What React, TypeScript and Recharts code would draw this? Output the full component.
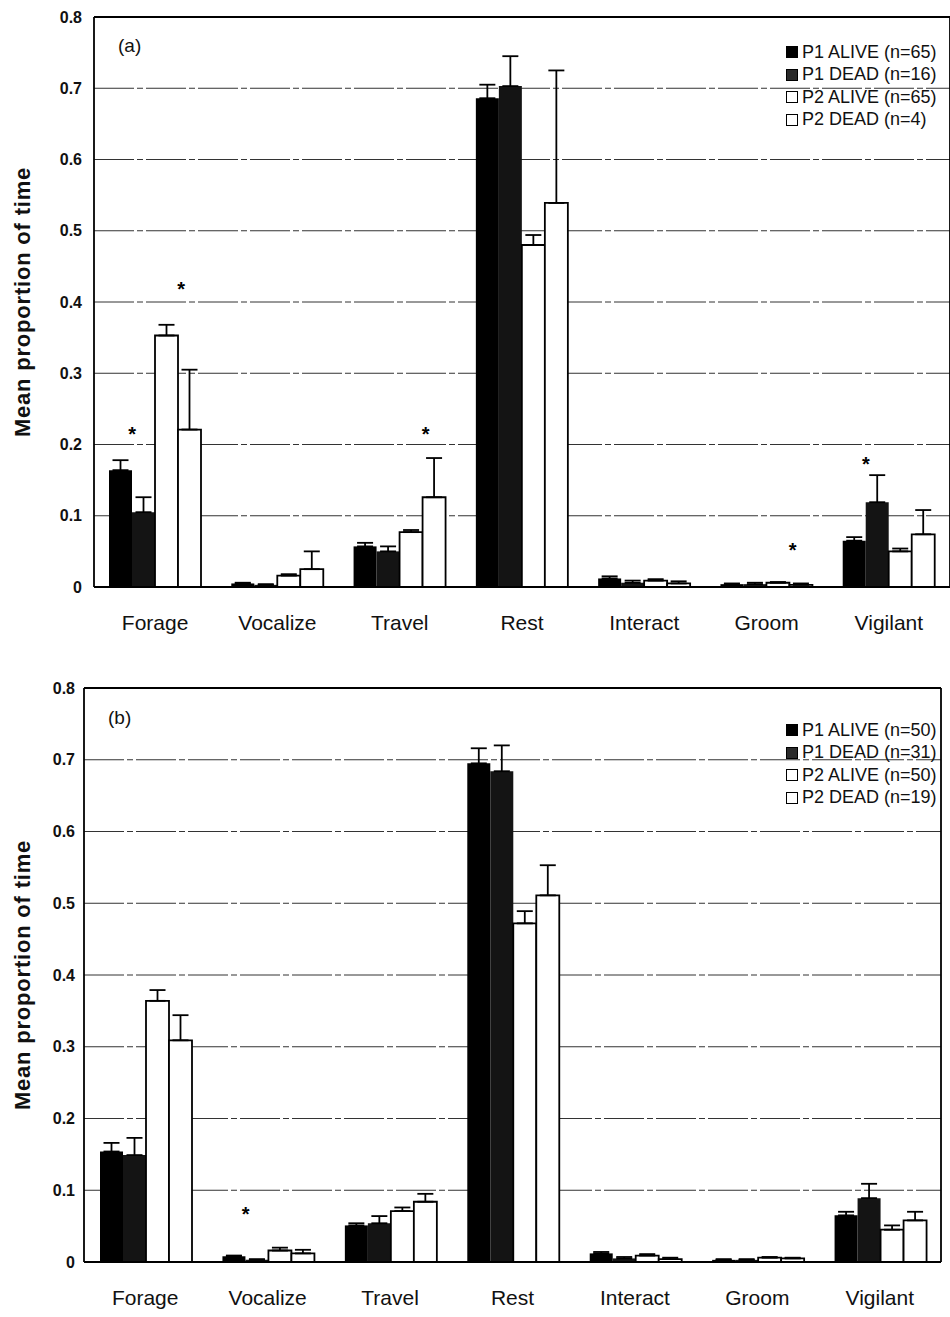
import React from "react";
import { BarChart, Bar, XAxis, YAxis, CartesianGrid, ErrorBar, ReferenceLine, ReferenceDot } from "recharts";

const FONT = '"Liberation Sans", Arial, sans-serif';

const categories = ["Forage", "Vocalize", "Travel", "Rest", "Interact", "Groom", "Vigilant"];
const yTicks = [0, 0.1, 0.2, 0.3, 0.4, 0.5, 0.6, 0.7, 0.8];

// panel (a)
const aNames = ["P1 ALIVE (n=65)", "P1 DEAD (n=16)", "P2 ALIVE (n=65)", "P2 DEAD (n=4)"];
const aP1Alive = [0.164, 0.005, 0.057, 0.686, 0.012, 0.004, 0.065];
const aP1AliveSe = [0.014, 0.001, 0.005, 0.019, 0.003, 0.001, 0.005];
const aP1Dead = [0.105, 0.003, 0.05, 0.703, 0.006, 0.004, 0.119];
const aP1DeadSe = [0.021, 0.001, 0.007, 0.042, 0.003, 0.002, 0.038];
const aP2Alive = [0.353, 0.016, 0.077, 0.48, 0.009, 0.006, 0.05];
const aP2AliveSe = [0.015, 0.002, 0.003, 0.014, 0.002, 0.001, 0.004];
const aP2Dead = [0.221, 0.025, 0.126, 0.539, 0.005, 0.003, 0.074];
const aP2DeadSe = [0.084, 0.025, 0.055, 0.186, 0.003, 0.002, 0.034];
const aMarks = [
  { cat: "Forage", pair: "p1", y: 0.22 },
  { cat: "Forage", pair: "p2", y: 0.424 },
  { cat: "Travel", pair: "p2", y: 0.221 },
  { cat: "Groom", pair: "p2", y: 0.058 },
  { cat: "Vigilant", pair: "p1", y: 0.178 },
];

// panel (b)
const bNames = ["P1 ALIVE (n=50)", "P1 DEAD (n=31)", "P2 ALIVE (n=50)", "P2 DEAD (n=19)"];
const bP1Alive = [0.154, 0.008, 0.051, 0.695, 0.012, 0.003, 0.065];
const bP1AliveSe = [0.012, 0.001, 0.003, 0.021, 0.002, 0.001, 0.005];
const bP1Dead = [0.149, 0.003, 0.054, 0.684, 0.005, 0.003, 0.089];
const bP1DeadSe = [0.024, 0.001, 0.01, 0.036, 0.002, 0.001, 0.02];
const bP2Alive = [0.364, 0.016, 0.071, 0.472, 0.009, 0.006, 0.045];
const bP2AliveSe = [0.015, 0.004, 0.005, 0.017, 0.002, 0.001, 0.006];
const bP2Dead = [0.309, 0.012, 0.084, 0.511, 0.004, 0.005, 0.058];
const bP2DeadSe = [0.035, 0.005, 0.011, 0.042, 0.002, 0.001, 0.012];
const bMarks = [{ cat: "Vocalize", pair: "p1", y: 0.072 }];

const keys = ["p1a", "p1d", "p2a", "p2d"];
const fills = ["#000", "#141414", "#fff", "#fff"];
const strokes = ["none", "none", "#000", "#000"];

function buildRows(series: number[][], errs: number[][]) {
  return categories.map((name, i) => {
    const row: any = { name };
    keys.forEach((k, j) => {
      row[k] = series[j][i];
      row[k + "Err"] = [0, errs[j][i]];
    });
    return row;
  });
}

const aRows = buildRows([aP1Alive, aP1Dead, aP2Alive, aP2Dead], [aP1AliveSe, aP1DeadSe, aP2AliveSe, aP2DeadSe]);
const bRows = buildRows([bP1Alive, bP1Dead, bP2Alive, bP2Dead], [bP1AliveSe, bP1DeadSe, bP2AliveSe, bP2DeadSe]);

type PanelProps = {
  rows: any[];
  names: string[];
  marks: { cat: string; pair: string; y: number }[];
  tag: string;
  top: number;
  width: number;
  height: number;
  margin: { top: number; right: number; left: number; bottom: number };
  yWidth: number;
  tickMargin: number;
  catGap: number;
  barW: number;
  tagPos: { left: number; top: number };
  legendPos: { left: number; top: number };
};

function Panel(p: PanelProps) {
  const star = (pair: string) => (props: any) => {
    const dx = pair === "p1" ? -p.barW : p.barW + 3;
    return (
      <text x={props.cx + dx} y={props.cy + 11} textAnchor="middle" fontSize={20} fontWeight="bold" fontFamily={FONT} fill="#000">
        *
      </text>
    );
  };
  return (
    <div style={{ position: "absolute", left: 0, top: p.top, width: p.width, height: p.height }}>
      <BarChart width={p.width} height={p.height} data={p.rows} margin={p.margin} barCategoryGap={p.catGap} barGap={0}>
        <CartesianGrid vertical={false} stroke="#333" strokeDasharray="40 3 6 3" />
        <XAxis
          dataKey="name"
          axisLine={{ stroke: "#000", strokeWidth: 1.8 }}
          tickLine={false}
          tickSize={0}
          tickMargin={28}
          height={40}
          interval={0}
          tick={{ fontSize: 21, fill: "#111", fontFamily: FONT }}
        />
        <YAxis
          domain={[0, 0.8]}
          ticks={yTicks}
          width={p.yWidth}
          axisLine={{ stroke: "#000", strokeWidth: 1.8 }}
          tickLine={false}
          tickSize={0}
          tickMargin={p.tickMargin}
          tickFormatter={(v: number) => (v === 0 ? "0" : v.toFixed(1))}
          tick={{ fontSize: 16, fontWeight: "bold", fill: "#111", fontFamily: FONT }}
          label={{
            value: "Mean proportion of time",
            angle: -90,
            position: "insideLeft",
            offset: 22 - p.margin.left,
            style: { textAnchor: "middle", fontSize: 22, fontWeight: "bold", fill: "#111", fontFamily: FONT, letterSpacing: 0.8 },
          }}
        />
        <YAxis yAxisId="right" orientation="right" domain={[0, 0.8]} tick={false} tickLine={false} width={1} axisLine={{ stroke: "#000", strokeWidth: 1.8 }} />
        <ReferenceLine y={0.8} stroke="#000" strokeWidth={1.8} />
        {keys.map((k, j) => (
          <Bar key={k} dataKey={k} fill={fills[j]} stroke={strokes[j]} strokeWidth={1.8} isAnimationActive={false}>
            <ErrorBar dataKey={k + "Err"} width={8} stroke="#000" strokeWidth={1.8} direction="y" />
          </Bar>
        ))}
        {p.marks.map((m, i) => (
          <ReferenceDot key={i} x={m.cat} y={m.y} r={0} shape={star(m.pair)} />
        ))}
      </BarChart>
      <div style={{ position: "absolute", left: p.tagPos.left, top: p.tagPos.top, fontFamily: FONT, fontSize: 19, color: "#111" }}>{p.tag}</div>
      <div style={{ position: "absolute", left: p.legendPos.left, top: p.legendPos.top, fontFamily: FONT, fontSize: 18, color: "#111" }}>
        {p.names.map((n, j) => (
          <div key={n} style={{ display: "flex", alignItems: "center", height: 22.5, whiteSpace: "nowrap" }}>
            <span
              style={{
                display: "inline-block",
                width: 12,
                height: 12,
                background: j === 1 ? "#2a2a2a" : fills[j],
                border: "1.8px solid #000",
                boxSizing: "border-box",
                marginRight: 4,
              }}
            />
            {n}
          </div>
        ))}
      </div>
    </div>
  );
}

export default function App() {
  return (
    <div style={{ position: "absolute", left: 0, top: 0, width: 950, height: 1317, overflow: "hidden", background: "#fff" }}>
      <Panel
        rows={aRows}
        names={aNames}
        marks={aMarks}
        tag="(a)"
        top={0}
        width={952}
        height={660}
        margin={{ top: 17, right: 1, left: 0, bottom: 33 }}
        yWidth={94}
        tickMargin={12}
        catGap={15}
        barW={23}
        tagPos={{ left: 118, top: 35 }}
        legendPos={{ left: 786, top: 41 }}
      />
      <Panel
        rows={bRows}
        names={bNames}
        marks={bMarks}
        tag="(b)"
        top={660}
        width={950}
        height={657}
        margin={{ top: 28, right: 8, left: 0, bottom: 15 }}
        yWidth={84}
        tickMargin={9}
        catGap={16}
        barW={22}
        tagPos={{ left: 108, top: 47 }}
        legendPos={{ left: 786, top: 59 }}
      />
    </div>
  );
}
